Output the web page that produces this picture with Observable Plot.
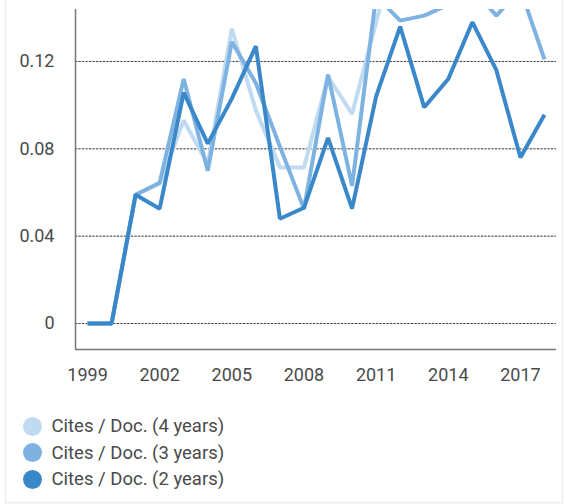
<!DOCTYPE html>
<html>
<head>
<meta charset="utf-8">
<script src="https://cdn.jsdelivr.net/npm/d3@7"></script>
<script src="https://cdn.jsdelivr.net/npm/@observablehq/plot@0.6"></script>
<style>
  body { margin: 0; background: #fff; font-family: Roboto, "Noto Sans", sans-serif; }
  #card { position: absolute; left: 5px; top: -10px; width: 556px; height: 511px; border: 1px solid #ececec; box-shadow: 0 1px 2px rgba(0,0,0,0.06); }
  #chart { position: absolute; left: 0; top: 0; }
  #legend { position: absolute; left: 0; top: 413px; }
  .row { position: absolute; left: 22.5px; height: 26px; display: flex; align-items: center; white-space: nowrap; font-size: 18.5px; color: #4a4a4a; }
  .dot { width: 19px; height: 19px; border-radius: 50%; margin-right: 10px; }
</style>
</head>
<body>
<div id="card"></div>
<div id="chart"></div>
<div id="legend"></div>
<script>
const years = [1999,2000,2001,2002,2003,2004,2005,2006,2007,2008,2009,2010,2011,2012,2013,2014,2015,2016,2017,2018];
const seriesNames = ["Cites / Doc. (4 years)", "Cites / Doc. (3 years)", "Cites / Doc. (2 years)"];
const seriesColors = ["#c0daf1", "#7eb3e1", "#3a88c9"];
const cites4 = [0,0,0.059,0.064,0.093,0.073,0.135,0.0976,0.0715,0.0715,0.113,0.096,0.138,0.18,0.175,0.178,0.185,0.182,0.178,0.168];
const cites3 = [0,0,0.059,0.0645,0.112,0.070,0.129,0.110,0.081,0.0525,0.114,0.063,0.150,0.1387,0.141,0.146,0.1535,0.141,0.153,0.121];
const cites2 = [0,0,0.059,0.0526,0.1057,0.0824,0.103,0.127,0.048,0.053,0.085,0.0526,0.104,0.136,0.099,0.112,0.138,0.116,0.076,0.0956];
const yTicks = [0, 0.04, 0.08, 0.12];
const xTicks = [1999, 2002, 2005, 2008, 2011, 2014, 2017];

const allSeries = [cites4, cites3, cites2];
const rows = [];
allSeries.forEach((vals, i) => vals.forEach((v, j) => rows.push({year: years[j], value: v, series: seriesNames[i]})));

const xDomain = [1998.5, 2018.5];
const yDomain = [-0.0119, 0.1438];

const chart = Plot.plot({
  width: 565,
  height: 395,
  marginTop: 9,
  marginBottom: 46,
  marginLeft: 75,
  marginRight: 9,
  style: {fontFamily: "Roboto, sans-serif", fontSize: "18px", color: "#4a4a4a", background: "transparent"},
  x: {domain: xDomain},
  y: {domain: yDomain},
  color: {domain: seriesNames, range: seriesColors},
  marks: [
    Plot.ruleY(yTicks, {stroke: "#d0d0d0", strokeWidth: 1}),
    Plot.ruleY(yTicks, {stroke: "#444", strokeWidth: 1, strokeDasharray: "2,1.5"}),
    ...seriesNames.map(name => Plot.line(rows.filter(r => r.series === name), {
      x: "year", y: "value", stroke: "series", strokeWidth: 4, clip: true, strokeLinejoin: "miter", strokeLinecap: "butt"
    })),
    Plot.ruleX([xDomain[0]], {stroke: "#777", strokeWidth: 1.5}),
    Plot.ruleY([yDomain[0]], {stroke: "#777", strokeWidth: 1.5}),
    Plot.axisY({ticks: yTicks, tickSize: 0, tickPadding: 21, tickFormat: d => d === 0 ? "0" : d.toFixed(2), label: null, fill: "#4a4a4a"}),
    Plot.axisX({ticks: xTicks, tickSize: 0, tickPadding: 19, tickFormat: d => String(d), label: null, fill: "#4a4a4a"})
  ]
});
document.getElementById("chart").appendChild(chart);

const legend = document.getElementById("legend");
seriesNames.forEach((name, i) => {
  const row = document.createElement("div");
  row.className = "row";
  row.style.top = (i * 26.5) + "px";
  const dot = document.createElement("span");
  dot.className = "dot";
  dot.style.background = seriesColors[i];
  const label = document.createElement("span");
  label.textContent = name;
  row.appendChild(dot);
  row.appendChild(label);
  legend.appendChild(row);
});
</script>
</body>
</html>
